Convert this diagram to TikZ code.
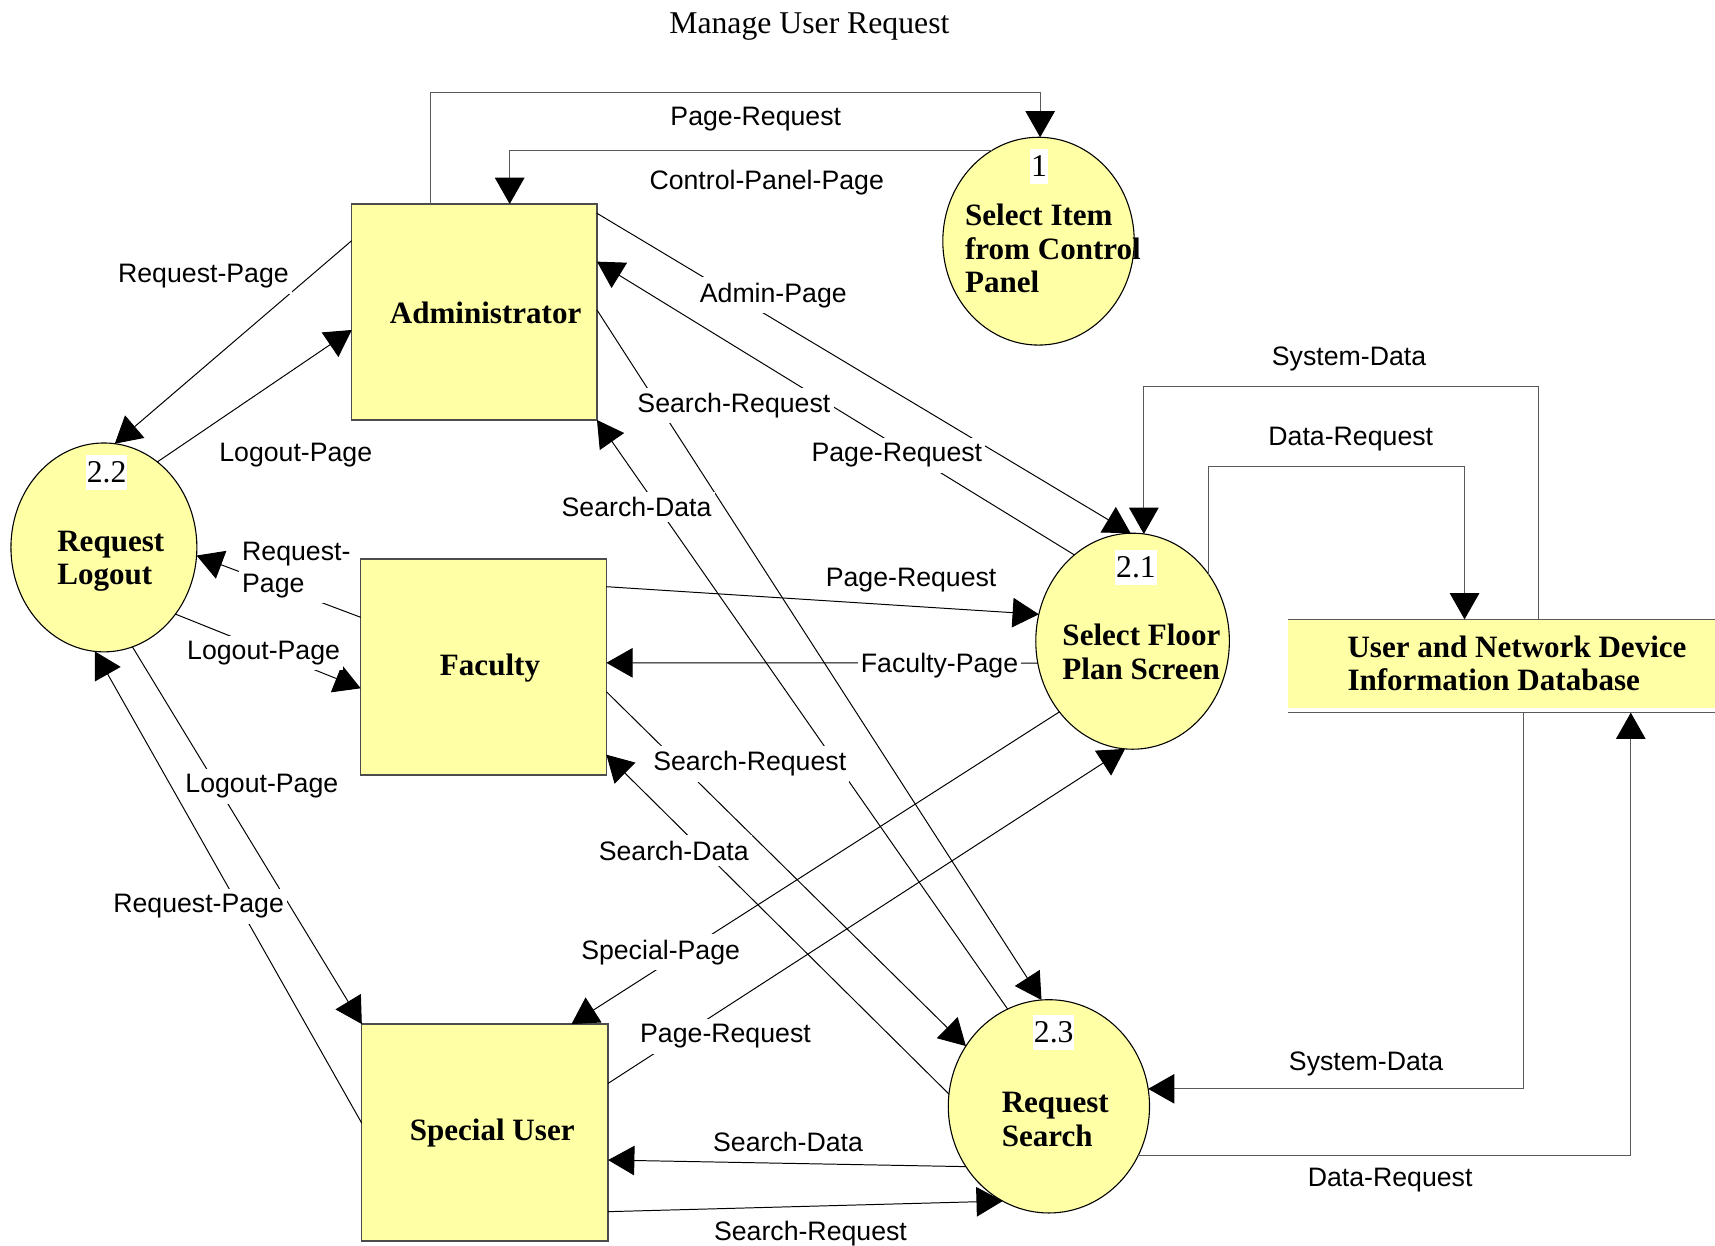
\documentclass[tikz,border=0pt]{standalone}
\usepackage{fontspec}
\setmainfont{Liberation Serif}
\newfontfamily\lsans{Liberation Sans}
\usetikzlibrary{arrows.meta,shapes.geometric,calc}
\definecolor{dfdyellow}{RGB}{255,255,166}
\begin{document}
\begin{tikzpicture}[x=0.5pt,y=-0.5pt,
  proc/.style={ellipse, draw=black, line width=0.5pt, fill=dfdyellow, inner sep=0pt, outer sep=0pt},
  entity/.style={rectangle, draw=black!70, line width=0.6pt, fill=dfdyellow, inner sep=0pt, outer sep=0pt},
  flow/.style={line width=0.45pt, -{Triangle[width=13.5pt,length=12pt,black]}},
  oflow/.style={flow, draw=black!65},
  lab/.style={fill=white, inner xsep=1.5pt, inner ysep=2.5pt, yshift=-1pt, font=\lsans\fontsize{12.2}{14.5}\selectfont},
  btxt/.style={font=\bfseries\fontsize{14.2}{15.3}\selectfont, align=left, inner sep=0pt},
  num/.style={fill=white, inner xsep=0.4pt, inner ysep=3.2pt, font=\fontsize{14.5}{16}\selectfont},
]
\useasboundingbox (0,0) rectangle (1568,1139.2);

% ---------- shapes ----------
\node[entity, minimum width=112.1pt, minimum height=98.75pt] (admin) at (433.7,285.25) {};
\node[entity, minimum width=112.3pt, minimum height=98.8pt] (faculty) at (442.1,609.8) {};
\node[entity, minimum width=112.6pt, minimum height=99.15pt] (special) at (443.4,1035.45) {};
\node[proc, minimum width=87.5pt, minimum height=95pt] (c1) at (949.5,220.5) {};
\node[proc, minimum width=85pt, minimum height=95.5pt] (c22) at (95,500.5) {};
\node[proc, minimum width=88.5pt, minimum height=98.75pt] (c21) at (1035.5,586.25) {};
\node[proc, minimum width=92pt, minimum height=97.5pt] (c23) at (959,1011.5) {};
\node[inner sep=0pt, outer sep=0pt, minimum width=195.2pt, minimum height=42.65pt] (db) at (1372.8,608.95) {};
\fill[dfdyellow] (db.north west) rectangle ($(db.south east)+(0,-4)$);
\draw[black!65, line width=0.6pt] (db.north west) -- (db.north east);
\draw[black!65, line width=0.6pt] (db.south west) -- (db.south east);

% ---------- connectors ----------
\draw[oflow] ($(admin.north west)+(72.4,0)$) -- ++(0,-102.1) -| ($(c1.north)+(1.5,0)$);
\draw[oflow] (c1.117.75) -| ($(admin.north west)+(144.4,0)$);

\draw[flow] ($(admin.north west)+(0,33.5)$) -- (c22.84.8);
\draw[flow] (c22.58.3) -- ($(admin.north west)+(0,115.2)$);
\draw[flow] ($(admin.north east)+(0,8.5)$) -- (c21.91.5);
\draw[flow] (c21.124.18) -- ($(admin.north east)+(0,52.7)$);
\draw[flow] ($(admin.north east)+(0,96.9)$) -- (c23.94.78);
\draw[flow] (c23.113.63) -- (admin.south east);

\draw[flow] ($(faculty.north west)+(0,53.4)$) -- (c22.-5.4);
\draw[flow] (c22.-43.6) -- ($(faculty.north west)+(0,118.3)$);
\draw[flow] ($(faculty.north east)+(0,25.4)$) -- (c21.164.76);
\draw[flow] (c21.193.15) -- ($(faculty.north east)+(0,95)$);
\draw[flow] ($(faculty.north east)+(0,121.4)$) -- (c23.144.06);
\draw[flow] (c23.173.46) -- ($(faculty.north east)+(0,179)$);

\draw[flow] (c22.-74.05) -- (special.north west);
\draw[flow] ($(special.north west)+(0,90.7)$) -- (c22.-95.8);
\draw[flow] (c21.224.6) -- ($(special.north west)+(191.7,0)$);
\draw[flow] ($(special.north east)+(0,54.2)$) -- (c21.266);
\draw[flow] (c23.216.68) -- ($(special.north east)+(0,124.3)$);
\draw[flow] ($(special.north east)+(0,171.5)$) -- (c23.244.72);

\draw[oflow] ($(db.north west)+(229,0)$) -- ++(0,-212.8) -| (c21.84.77);
\draw[oflow] (c21.41.34) |- ($(db.north west)+(161.4,-139.6)$) -- ($(db.north west)+(161.4,0)$);
\draw[oflow] ($(db.south west)+(215.4,0)$) |- (c23.10.31);
\draw[oflow] (c23.-29.9) -| ($(db.south west)+(313.4,0)$);

% ---------- texts in shapes ----------
\node[font=\fontsize{14.5}{17}\selectfont] (title) at (740,24) {Manage User Request};
\node[btxt] (admintxt) at (444,286) {Administrator};
\node[btxt] (factxt) at (448,610.5) {Faculty};
\node[btxt] (sptxt) at (450,1036) {Special User};
\node[num] (n1) at (950,152) {1};
\node[btxt, anchor=west] (c1txt) at (882,227.5) {Select Item\\from Control\\Panel};
\node[num] (n22) at (97.5,432) {2.2};
\node[btxt, anchor=west] (c22txt) at (52,513) {Request\\Logout};
\node[num] (n21) at (1038.6,519) {2.1};
\node[btxt, anchor=west] (c21txt) at (971,596) {Select Floor\\Plan Screen};
\node[num] (n23) at (963.4,944) {2.3};
\node[btxt, anchor=west] (c23txt) at (915.5,1023.5) {Request\\Search};
\node[btxt, anchor=west] (dbtxt) at (1231.6,606.5) {User and Network Device\\Information Database};

% ---------- flow labels ----------
\node[lab] (l1) at (691,107) {Page-Request};
\node[lab] (l2) at (701,164.6) {Control-Panel-Page};
\node[lab] (l3) at (186,250.5) {Request-Page};
\node[lab] (l4) at (270.4,414) {Logout-Page};
\node[lab] (l5) at (707,268) {Admin-Page};
\node[lab] (l6) at (671,368.8) {Search-Request};
\node[lab] (l7) at (820,414.5) {Page-Request};
\node[lab] (l8) at (582,461.7) {Search-Data};
\node[lab] (l9) at (1233.4,326) {System-Data};
\node[lab] (l10) at (1235,399) {Data-Request};
\node[lab, align=left, anchor=west] (l11) at (218,519) {Request-\\Page};
\node[lab] (l12) at (241,595) {Logout-Page};
\node[lab] (l13) at (833,528.8) {Page-Request};
\node[lab] (l14) at (859,606.5) {Faculty-Page};
\node[lab] (l15) at (685.5,696.4) {Search-Request};
\node[lab] (l16) at (616,775.6) {Search-Data};
\node[lab] (l17) at (239.4,716.8) {Logout-Page};
\node[lab] (l18) at (181.6,826.5) {Request-Page};
\node[lab] (l19) at (604,868.6) {Special-Page};
\node[lab] (l20) at (663.3,945.4) {Page-Request};
\node[lab] (l21) at (720.5,1041.7) {Search-Data};
\node[lab] (l22) at (741,1126) {Search-Request};
\node[lab] (l23) at (1249,971) {System-Data};
\node[lab] (l24) at (1271,1077) {Data-Request};
\end{tikzpicture}
\end{document}
